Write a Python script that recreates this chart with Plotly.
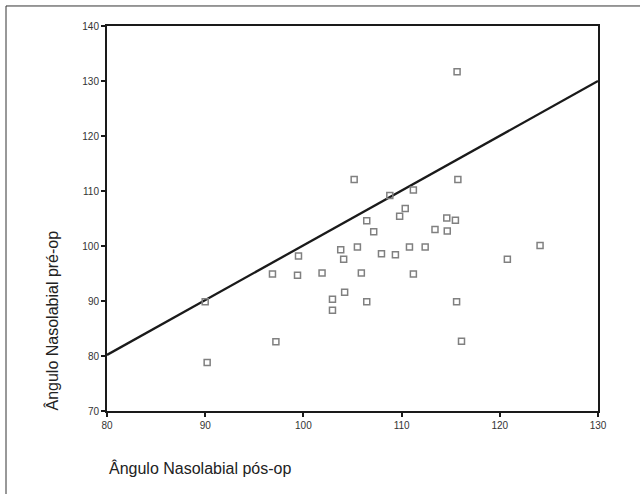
import plotly.graph_objects as go

# Data
pos_op = [115.65, 105.17, 115.73, 111.2, 108.8, 110.37, 109.8, 106.45, 114.6, 115.48,
          107.16, 113.4, 114.65, 103.8, 105.5, 110.8, 112.4, 99.5, 104.1, 107.95,
          109.37, 120.77, 124.1, 96.85, 99.4, 101.9, 105.9, 111.2, 104.2, 102.96,
          102.96, 106.45, 115.6, 90.0, 90.2, 97.2, 116.1]
pre_op = [131.7, 112.1, 112.1, 110.2, 109.2, 106.8, 105.4, 104.6, 105.1, 104.7,
          102.6, 103.0, 102.75, 99.3, 99.8, 99.8, 99.8, 98.2, 97.6, 98.6,
          98.4, 97.6, 100.1, 94.9, 94.7, 95.1, 95.1, 94.9, 91.6, 90.3,
          88.3, 89.85, 89.85, 89.85, 78.8, 82.6, 82.7]
ref_line_x = [80, 130]
ref_line_y = [80.2, 130]
x_ticks = [80, 90, 100, 110, 120, 130]
y_ticks = [70, 80, 90, 100, 110, 120, 130, 140]

fig = go.Figure()
fig.add_trace(go.Scatter(x=ref_line_x, y=ref_line_y, mode="lines",
                         line=dict(color="#1a1a1a", width=2.3), showlegend=False))
fig.add_trace(go.Scatter(x=pos_op, y=pre_op, mode="markers",
                         marker=dict(symbol="square-open", size=6,
                                     color="#808080", line=dict(width=1.5, color="#808080")),
                         showlegend=False))

axis_common = dict(showline=True, mirror=True, linewidth=2, linecolor="#1a1a1a",
                   ticks="outside", ticklen=4, tickwidth=2, tickcolor="#1a1a1a",
                   showgrid=False, zeroline=False,
                   tickfont=dict(family="Liberation Sans, Arial", size=10, color="#333333"))

fig.update_layout(
    width=640, height=494,
    margin=dict(l=107, r=42, t=26, b=83),
    paper_bgcolor="white", plot_bgcolor="white",
    xaxis=dict(range=[80, 130], tickvals=x_ticks, **axis_common),
    yaxis=dict(range=[70, 140], tickvals=y_ticks, **axis_common),
    font=dict(family="Liberation Sans, Arial"),
    shapes=[dict(type="rect", xref="paper", yref="paper",
                 x0=-0.2057, x1=1.2, y0=-0.3, y1=1.052,
                 line=dict(color="#333333", width=1), layer="below")],
    annotations=[
        dict(text="Ângulo Nasolabial pós-op", xref="paper", yref="paper",
             x=0, y=-0.148, xanchor="left", yanchor="middle", showarrow=False,
             font=dict(size=16, color="#222222")),
        dict(text="Ângulo Nasolabial pré-op", xref="paper", yref="paper",
             x=-0.112, y=0.235, xanchor="center", yanchor="middle", textangle=-90,
             showarrow=False, font=dict(size=16, color="#222222")),
    ],
)

fig.write_html("out.html")
